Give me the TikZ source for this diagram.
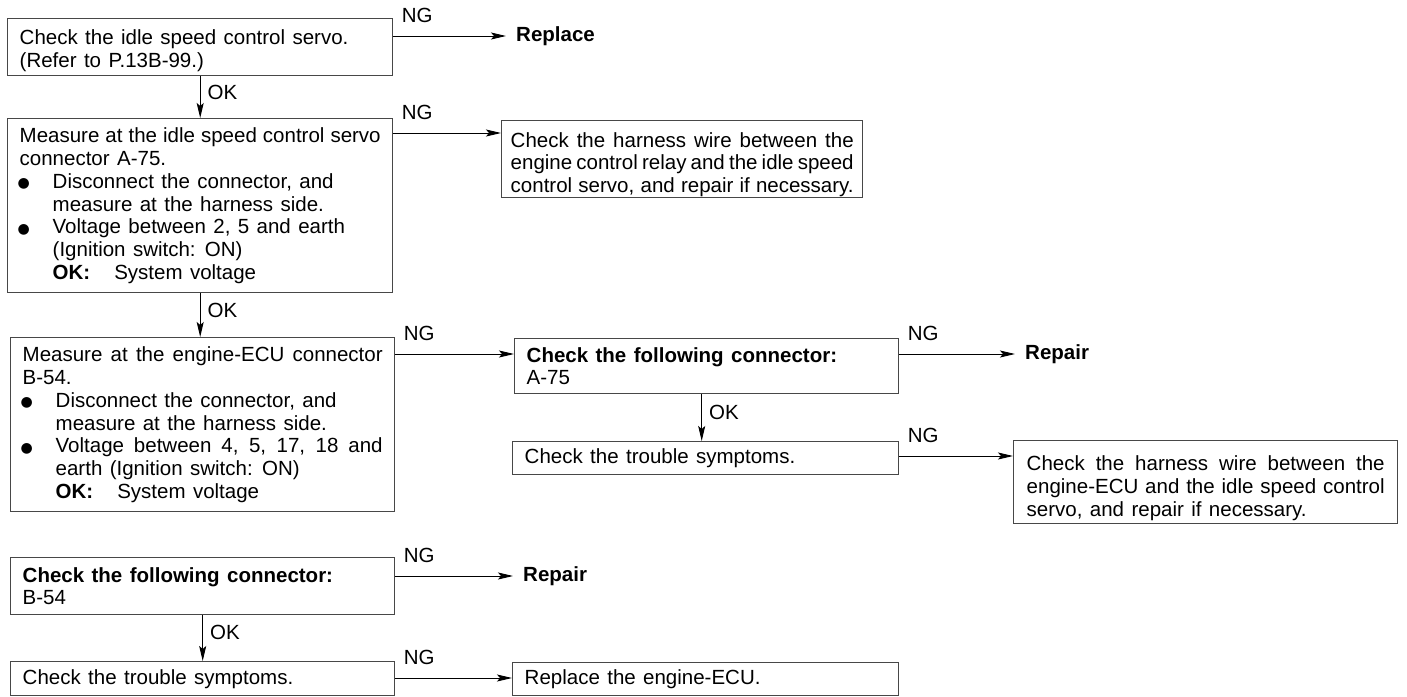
\documentclass[tikz,border=0pt]{standalone}
\usepackage{fontspec}
\setmainfont{Liberation Sans}[WordSpace={1.3,1.2,2}]
\newfontfamily\dejavu{DejaVu Sans}
\usetikzlibrary{arrows.meta,calc}
\setlength{\parindent}{0pt}
\newcommand{\blt}{\makebox[33pt][l]{\hspace*{-2pt}\raisebox{0.5pt}{\dejavu\fontsize{14}{14}\selectfont ●}}}
\newcommand{\hng}{\hangindent=33pt\hangafter=1\relax}
\newcommand{\tstrut}[1]{\rule{0pt}{#1}}
\newcommand{\okgap}{\textbf{OK:}\hspace*{24pt}System voltage}
\tikzset{
  box/.style={draw=black!72, line width=1.4pt, anchor=north west, inner xsep=12pt, inner ysep=0pt,
    align=justify, font=\fontsize{20.5}{22.8}\selectfont},
  lbl/.style={inner sep=0pt, font=\fontsize{20.5}{22.8}\selectfont},
  ng/.style={lbl, anchor=south west, xshift=8pt, yshift=12.5pt},
  ok/.style={lbl, anchor=west, xshift=7pt},
  res/.style={inner ysep=0pt, inner xsep=10pt, anchor=west, font=\fontsize{20.5}{22.8}\selectfont\bfseries},
  arr/.style={line width=1pt, -{Stealth[length=15pt,width=7pt,inset=3pt]}},
}
\begin{document}
\begin{tikzpicture}[x=1pt,y=-1pt]
\useasboundingbox (0,0) rectangle (1407,696);
% left column
\node[box, minimum width=385pt, text width=361pt, minimum height=57pt] (b1) at (7,18)
  {\tstrut{22.5pt}Check the idle speed control servo.\newline (Refer to P.13B-99.)};
\node[box, minimum width=385pt, text width=361pt, minimum height=174pt] (b2) at (7,118)
  {Measure at the idle speed control servo\linebreak connector A-75.\par
   \hng\blt Disconnect the connector, and\newline measure at the harness side.\par
   \hng\blt Voltage between 2, 5 and earth\newline (Ignition switch: ON)\newline \okgap\par};
\node[box, minimum width=384pt, text width=360pt, minimum height=174pt] (b3) at (10,337)
  {Measure at the engine-ECU connector\linebreak B-54.\par
   \hng\blt Disconnect the connector, and\newline measure at the harness side.\par
   \hng\blt Voltage between 4, 5, 17, 18 and\linebreak earth (Ignition switch: ON)\newline \okgap\par};
\node[box, minimum width=384pt, text width=360pt, minimum height=57pt] (b4) at (10,557)
  {\textbf{Check the following connector:}\newline B-54};
\node[box, minimum width=384pt, text width=360pt, minimum height=34pt] (b5) at (10,661)
  {Check the trouble symptoms.};
% middle column
\node[box, inner xsep=9pt, minimum width=361pt, text width=343pt, minimum height=77pt] (t2) at (501,120)
  {\parfillskip=0pt \tstrut{25.5pt}Check the harness wire between the\linebreak engine control relay and the idle speed\linebreak control servo, and repair if necessary.\par};
\node[box, minimum width=384pt, text width=360pt, minimum height=55pt] (a75) at (514,338)
  {\textbf{Check the following connector:}\newline A-75};
\node[box, minimum width=386pt, text width=362pt, minimum height=33pt] (tr) at (512,441)
  {Check the trouble symptoms.};
\node[box, minimum width=386pt, text width=362pt, minimum height=33pt] (re) at (512,662)
  {Replace the engine-ECU.};
% right column
\node[box, inner xsep=13pt, minimum width=384pt, text width=358pt, minimum height=83pt] (hr) at (1013,440)
  {\tstrut{26.7pt}Check the harness wire between the\linebreak engine-ECU and the idle speed control\linebreak servo, and repair if necessary.\par};
% result labels
\node[res] (rp1) at (506,36) {Replace};
\node[res] (rp2) at (1015,354) {Repair};
\node[res] (rp3) at (513,576) {Repair};
% helper heights
\coordinate (y1) at (0,36);
\coordinate (y2) at (0,133);
\coordinate (y3) at (0,354);
\coordinate (y4) at (0,456);
\coordinate (y5) at (0,576);
\coordinate (y6) at (0,678);
% NG connectors
\draw[arr] (b1.east |- y1) -- node[ng, pos=0]{NG} (rp1.west);
\draw[arr] (b2.east |- y2) -- node[ng, pos=0]{NG} (t2.west |- y2);
\draw[arr] (b3.east |- y3) -- node[ng, pos=0]{NG} (a75.west |- y3);
\draw[arr] (a75.east |- y3) -- node[ng, pos=0]{NG} (rp2.west);
\draw[arr] (tr.east |- y4) -- node[ng, pos=0]{NG} (hr.west |- y4);
\draw[arr] (b4.east |- y5) -- node[ng, pos=0]{NG} (rp3.west);
\draw[arr] (b5.east |- y6) -- node[ng, pos=0]{NG} (re.west |- y6);
% OK connectors
\draw[arr] (b1.south) -- node[ok, pos=0.38]{OK} (b1.south |- b2.north);
\draw[arr] (b2.south) -- node[ok, pos=0.38]{OK} (b2.south |- b3.north);
\draw[arr] (b4.south) -- node[ok, pos=0.38]{OK} (b4.south |- b5.north);
\draw[arr] ([xshift=-5pt]a75.south) -- node[ok, pos=0.38]{OK} ([xshift=-5pt]a75.south |- tr.north);
\end{tikzpicture}
\end{document}
